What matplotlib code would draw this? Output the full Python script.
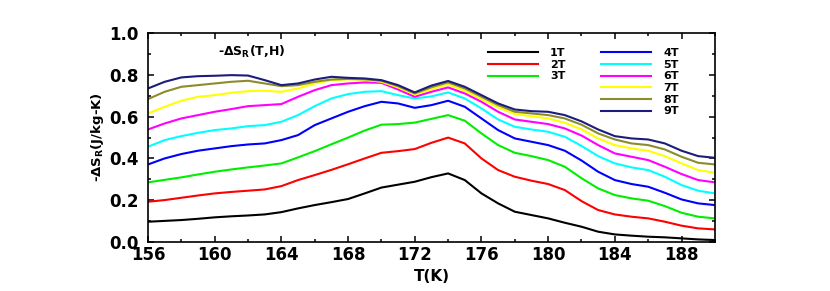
import matplotlib
matplotlib.use("Agg")
import matplotlib.pyplot as plt
from matplotlib.ticker import MultipleLocator
from matplotlib.lines import Line2D

plt.rcParams['font.family'] = ['DejaVu Sans']
plt.rcParams['font.weight'] = 'bold'
plt.rcParams['mathtext.fontset'] = 'custom'
plt.rcParams['mathtext.rm'] = 'DejaVu Sans:bold'
plt.rcParams['mathtext.it'] = 'DejaVu Sans:bold'
plt.rcParams['mathtext.bf'] = 'DejaVu Sans:bold'

# temperature (K)
T = list(range(156, 191))

# -dS_R (J/kg-K) for each field
s1T = [0.096, 0.100, 0.104, 0.110, 0.117, 0.122, 0.126, 0.131, 0.142, 0.160, 0.176, 0.190, 0.205, 0.232, 0.260, 0.274, 0.288, 0.310, 0.328, 0.296, 0.232,
       0.184, 0.144, 0.128, 0.112, 0.091, 0.072, 0.048, 0.035, 0.029, 0.024, 0.021, 0.016, 0.011, 0.008]
s2T = [0.192, 0.200, 0.211, 0.222, 0.232, 0.239, 0.245, 0.251, 0.267, 0.296, 0.320, 0.345, 0.372, 0.400, 0.427, 0.435, 0.445, 0.475, 0.500, 0.472, 0.400,
       0.344, 0.312, 0.293, 0.277, 0.248, 0.195, 0.152, 0.131, 0.120, 0.112, 0.096, 0.077, 0.064, 0.059]
s3T = [0.285, 0.297, 0.309, 0.323, 0.336, 0.347, 0.357, 0.366, 0.376, 0.405, 0.435, 0.468, 0.500, 0.534, 0.562, 0.565, 0.572, 0.590, 0.608, 0.581, 0.520,
       0.464, 0.427, 0.411, 0.392, 0.360, 0.305, 0.256, 0.224, 0.208, 0.197, 0.171, 0.139, 0.120, 0.112]
s4T = [0.371, 0.400, 0.421, 0.437, 0.448, 0.459, 0.467, 0.472, 0.488, 0.512, 0.560, 0.592, 0.624, 0.651, 0.672, 0.664, 0.643, 0.656, 0.677, 0.648, 0.592,
       0.536, 0.496, 0.480, 0.464, 0.437, 0.390, 0.336, 0.296, 0.277, 0.264, 0.235, 0.203, 0.184, 0.176]
s5T = [0.456, 0.488, 0.507, 0.523, 0.536, 0.544, 0.555, 0.560, 0.576, 0.608, 0.651, 0.688, 0.709, 0.720, 0.723, 0.704, 0.688, 0.698, 0.717, 0.688, 0.640,
       0.587, 0.552, 0.539, 0.528, 0.504, 0.460, 0.411, 0.376, 0.357, 0.344, 0.312, 0.272, 0.245, 0.232]
s6T = [0.539, 0.568, 0.592, 0.608, 0.624, 0.637, 0.651, 0.656, 0.661, 0.696, 0.728, 0.752, 0.760, 0.765, 0.763, 0.731, 0.696, 0.720, 0.741, 0.712, 0.672,
       0.624, 0.587, 0.576, 0.565, 0.544, 0.510, 0.464, 0.424, 0.408, 0.392, 0.360, 0.325, 0.296, 0.285]
s7T = [0.616, 0.648, 0.677, 0.696, 0.704, 0.715, 0.723, 0.725, 0.720, 0.736, 0.760, 0.776, 0.779, 0.778, 0.768, 0.741, 0.707, 0.733, 0.755, 0.725, 0.685,
       0.645, 0.613, 0.603, 0.592, 0.571, 0.540, 0.496, 0.464, 0.448, 0.437, 0.411, 0.376, 0.344, 0.331]
s8T = [0.685, 0.720, 0.744, 0.752, 0.760, 0.768, 0.773, 0.760, 0.747, 0.752, 0.768, 0.779, 0.782, 0.780, 0.773, 0.747, 0.712, 0.742, 0.765, 0.736, 0.696,
       0.656, 0.624, 0.616, 0.608, 0.592, 0.562, 0.520, 0.491, 0.472, 0.464, 0.443, 0.408, 0.379, 0.371]
s9T = [0.736, 0.768, 0.789, 0.795, 0.797, 0.800, 0.798, 0.776, 0.752, 0.760, 0.779, 0.792, 0.787, 0.784, 0.776, 0.752, 0.717, 0.750, 0.772, 0.744, 0.704,
       0.664, 0.635, 0.627, 0.624, 0.608, 0.578, 0.539, 0.507, 0.496, 0.491, 0.472, 0.437, 0.411, 0.403]

labels = ["1T", "2T", "3T", "4T", "5T", "6T", "7T", "8T", "9T"]
colors = ["black", "red", "#00ee00", "blue", "cyan", "magenta", "yellow", "#8c8c2c", "#1c1c7c"]
series = [s1T, s2T, s3T, s4T, s5T, s6T, s7T, s8T, s9T]

fig = plt.figure(figsize=(8.3, 2.91), dpi=100)
ax = fig.add_axes([0.1783, 0.1694, 0.683, 0.7155])

lines = []
for s, c, l in zip(series, colors, labels):
    ln, = ax.plot(T, s, '-', color=c, lw=1.5, label=l)
    lines.append(ln)

ax.set_xlim(156, 190)
ax.set_ylim(0.0, 1.0)
ax.xaxis.set_major_locator(MultipleLocator(4))
ax.xaxis.set_minor_locator(MultipleLocator(2))
ax.yaxis.set_major_locator(MultipleLocator(0.2))
ax.yaxis.set_minor_locator(MultipleLocator(0.1))
ax.tick_params(which='both', direction='in', top=True, right=True, labelsize=12, width=1.1)
ax.tick_params(which='major', length=4)
ax.tick_params(which='minor', length=2)
ax.tick_params(axis='x', pad=3)
ax.tick_params(axis='y', pad=7)
for sp in ax.spines.values():
    sp.set_linewidth(1.2)
for lab in ax.get_xticklabels() + ax.get_yticklabels():
    lab.set_fontweight('bold')

ax.set_xlabel("T(K)", fontsize=11, fontweight='bold', labelpad=4)
ax.set_ylabel(r"-$\Delta$S$_\mathrm{R}$(J/kg-K)", fontsize=9.5, fontweight='bold', labelpad=2)
ax.text(0.123, 0.912, r"-$\Delta$S$_\mathrm{R}$(T,H)", transform=ax.transAxes,
        fontsize=9, fontweight='bold', va='center')

# 3 entries in the first column, 6 in the second
blank = Line2D([], [], color='none')
handles = lines[:3] + [blank] * 3 + lines[3:]
leg_labels = labels[:3] + [""] * 3 + labels[3:]
ax.legend(handles, leg_labels, ncol=2, loc='upper left', bbox_to_anchor=(0.5997, 0.93),
          frameon=False, borderpad=0, borderaxespad=0, handlelength=4.5, handletextpad=1.1,
          columnspacing=3.2, labelspacing=0.15, prop={'weight': 'bold', 'size': 8})

fig.savefig("out.png", dpi=100)
